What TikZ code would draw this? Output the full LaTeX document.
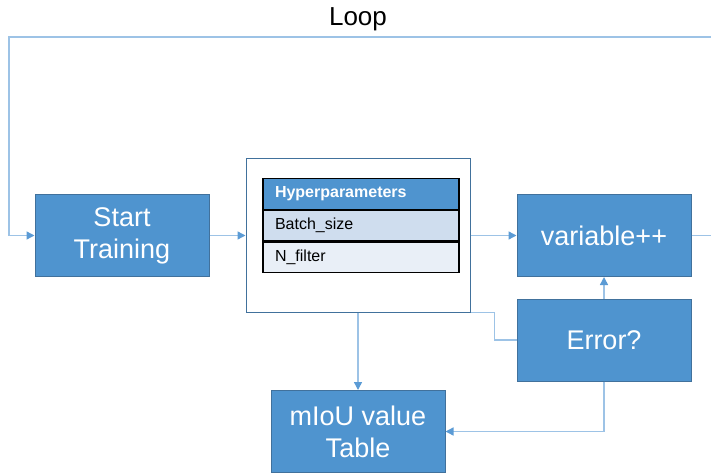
\documentclass[tikz,border=0pt]{standalone}
\usepackage{fontspec}
\setmainfont{Liberation Sans}
\usetikzlibrary{arrows.meta,calc}
\definecolor{boxblue}{HTML}{4F94CF}
\definecolor{edgeblue}{HTML}{41719C}
\definecolor{lineblue}{HTML}{9DC3E6}
\definecolor{tipblue}{HTML}{5B9BD5}
\definecolor{rowdark}{HTML}{CFDDEE}
\definecolor{rowlight}{HTML}{E9EFF7}

\begin{document}
\begin{tikzpicture}[x=1pt, y=-1pt,
    block/.style={draw=edgeblue, fill=boxblue, text=white, line width=1pt,
      minimum width=174pt, minimum height=82pt, inner sep=0pt, align=center,
      font=\fontsize{27}{32}\selectfont},
    row/.style={draw=black, line width=1.2pt, minimum height=30.5pt, inner ysep=0pt,
      inner xsep=12pt, text width=172pt, align=left, font=\fontsize{16}{19}\selectfont},
    link/.style={draw=lineblue, line width=1.4pt},
    arrow/.style={link, -{Triangle[width=8pt, length=8pt, color=tipblue]}}]
  \useasboundingbox (0,0) rectangle (711,473);

  \node[block] (start) at (122,235.5) {Start\\Training};
  \node[draw=edgeblue, line width=1pt, minimum width=224pt, minimum height=153pt] (hyper) at (358,235.5) {};
  \node[row, fill=boxblue, text=white, font=\fontsize{16}{19}\selectfont\bfseries] (head) at (361,194) {Hyperparameters};
  \node[row, fill=rowdark, anchor=north] (batch) at (head.south) {Batch\_size};
  \node[row, fill=rowlight, anchor=north] (nfilter) at (batch.south) {N\_filter};
  \node[block] (var) at (604,235.5) {variable++};
  \node[block] (err) at (604,340) {Error?};
  \node[block] (miou) at (358,431.5) {mIoU value\\Table};

  \coordinate (loopright) at (730,37);
  \coordinate (loopleft) at (9,37);
  \node[font=\fontsize{26}{30}\selectfont] (looplabel) at (358,19) {Loop};

  % loop back to start
  \draw[arrow] (var.east) -| (loopright) -- (loopleft) |- (start.west);
  \draw[arrow] (start.east) -- (hyper.west);
  \draw[arrow] (hyper.east) -- (var.west);
  \draw[arrow] (err.north) -- (var.south);
  \draw[link] (err.west) -| ($(hyper.south east)+(24,0)$) -- (hyper.south east);
  \draw[arrow] (hyper.south) -- (miou.north);
  \draw[arrow] (err.south) |- (miou.east);
\end{tikzpicture}
\end{document}
